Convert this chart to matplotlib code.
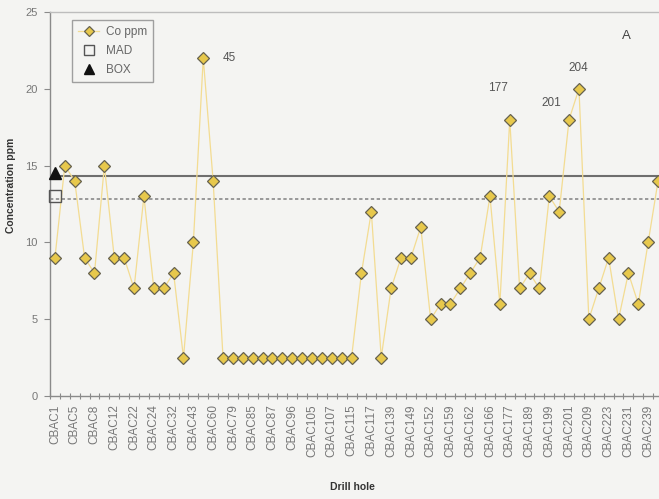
import matplotlib
matplotlib.use("Agg")
import matplotlib.pyplot as plt
from matplotlib.ticker import FixedLocator, NullFormatter

plt.rcParams['font.family'] = ['Liberation Sans', 'DejaVu Sans']

# Co concentration per drill hole sample (ppm)
co_ppm = [9, 15, 14, 9, 8, 15, 9, 9, 7, 13, 7, 7, 8, 2.5, 10, 22, 14,
          2.5, 2.5, 2.5, 2.5, 2.5, 2.5, 2.5, 2.5, 2.5, 2.5, 2.5, 2.5, 2.5, 2.5,
          8, 12, 2.5, 7, 9, 9, 11, 5, 6, 6, 7, 8, 9, 13, 6, 18, 7, 8, 7,
          13, 12, 18, 20, 5, 7, 9, 5, 8, 6, 10, 14]

# Labels shown on every second category
hole_labels = ['CBAC1', 'CBAC5', 'CBAC8', 'CBAC12', 'CBAC22', 'CBAC24', 'CBAC32',
               'CBAC43', 'CBAC60', 'CBAC79', 'CBAC85', 'CBAC87', 'CBAC96',
               'CBAC105', 'CBAC107', 'CBAC115', 'CBAC117', 'CBAC139', 'CBAC149',
               'CBAC152', 'CBAC159', 'CBAC162', 'CBAC166', 'CBAC177', 'CBAC189',
               'CBAC199', 'CBAC201', 'CBAC209', 'CBAC223', 'CBAC231', 'CBAC239']

# Threshold levels
box_level = 14.3
mad_level = 12.8
box_point = 14.5
mad_point = 13.0

# Values of capped outliers: (index, text, x offset px, y offset px, ha)
outliers = [(15, '45', 19, 0, 'left'),
            (46, '177', -12, 32, 'center'),
            (52, '201', -18, 17, 'center'),
            (53, '204', -1, 21, 'center')]

bg = '#f4f4f2'
fig = plt.figure(figsize=(6.59, 4.99), dpi=100, facecolor=bg)
W, H = 659, 499
left, right, top, bottom = 50, 663, 12, 396
ax = fig.add_axes([left / W, 1 - bottom / H, (right - left) / W, (bottom - top) / H])
ax.set_facecolor(bg)


def ax_x(px):
    return (px - left) / (right - left)


def ax_y(py):
    return 1 - (py - top) / (bottom - top)


n = len(co_ppm)
x = list(range(n))

ax.axhline(box_level, color='#6e6e6e', lw=1.5, zorder=2)
ax.axhline(mad_level, color='#8a8a8a', lw=1.2, ls=(0, (2, 1.5)), zorder=2)

line, = ax.plot(x, co_ppm, color='#f3dc92', lw=0.9, marker='D', markersize=6.5,
                markerfacecolor='#e7c84c', markeredgecolor='#66624f',
                markeredgewidth=0.9, zorder=4, clip_on=False, label='Co ppm')
mad_m, = ax.plot([0], [mad_point], ls='none', marker='s', markersize=9,
                 markerfacecolor='none', markeredgecolor='#555555',
                 markeredgewidth=1.0, zorder=5, clip_on=False, label='MAD')
box_m, = ax.plot([0], [box_point], ls='none', marker='^', markersize=9,
                 color='#111111', zorder=5, clip_on=False, label='BOX')

for idx, txt, dx, dy, ha in outliers:
    ax.annotate(txt, (idx, co_ppm[idx]), xytext=(dx, dy), textcoords='offset pixels',
                ha=ha, va='center', fontsize=8.5, color='#555555')

ax.text(ax_x(626), ax_y(36), 'A', transform=ax.transAxes, ha='center', va='center',
        fontsize=9.5, color='#444444')

ax.set_xlim(-0.5, n - 0.5)
ax.set_ylim(0, 25)

ax.set_yticks([0, 5, 10, 15, 20, 25])
ax.tick_params(axis='y', direction='out', length=4, width=0.8, colors='#8a8a8a',
               labelsize=8, labelcolor='#777777', pad=5)

ax.set_xticks(list(range(0, n, 2)))
ax.set_xticklabels(hole_labels, rotation=90, fontsize=8.5, color='#777777')
ax.xaxis.set_minor_locator(FixedLocator([i - 0.5 for i in range(n + 1)]))
ax.xaxis.set_minor_formatter(NullFormatter())
ax.tick_params(axis='x', which='major', length=0, pad=6)
ax.tick_params(axis='x', which='minor', direction='inout', length=5, width=0.8,
               color='#8a8a8a')

for side in ('left', 'bottom'):
    ax.spines[side].set_color('#8a8a8a')
    ax.spines[side].set_linewidth(1.0)
for side in ('top', 'right'):
    ax.spines[side].set_color('#bdbdbd')
    ax.spines[side].set_linewidth(1.0)

ax.set_xlabel('Drill hole', fontsize=7.5, fontweight='bold', color='#333333')
ax.xaxis.set_label_coords(ax_x(352), ax_y(487))
ax.set_ylabel('Concentration ppm', fontsize=7.5, fontweight='bold', color='#333333')
ax.yaxis.set_label_coords(ax_x(11), ax_y(185))
ax.yaxis.label.set_va('center')
ax.xaxis.label.set_va('center')

leg = ax.legend(handles=[line, mad_m, box_m], loc='upper left',
                bbox_to_anchor=(ax_x(72), ax_y(20)),
                fontsize=8.5, frameon=True, fancybox=False, borderpad=0.5,
                labelspacing=0.6, handlelength=1.8, handletextpad=0.6,
                markerscale=0.8, borderaxespad=0)
leg.get_frame().set_edgecolor('#8a8a8a')
leg.get_frame().set_facecolor(bg)
leg.get_frame().set_linewidth(1.0)
for t in leg.get_texts():
    t.set_color('#666666')

fig.savefig('out.png', dpi=100, facecolor=bg)
